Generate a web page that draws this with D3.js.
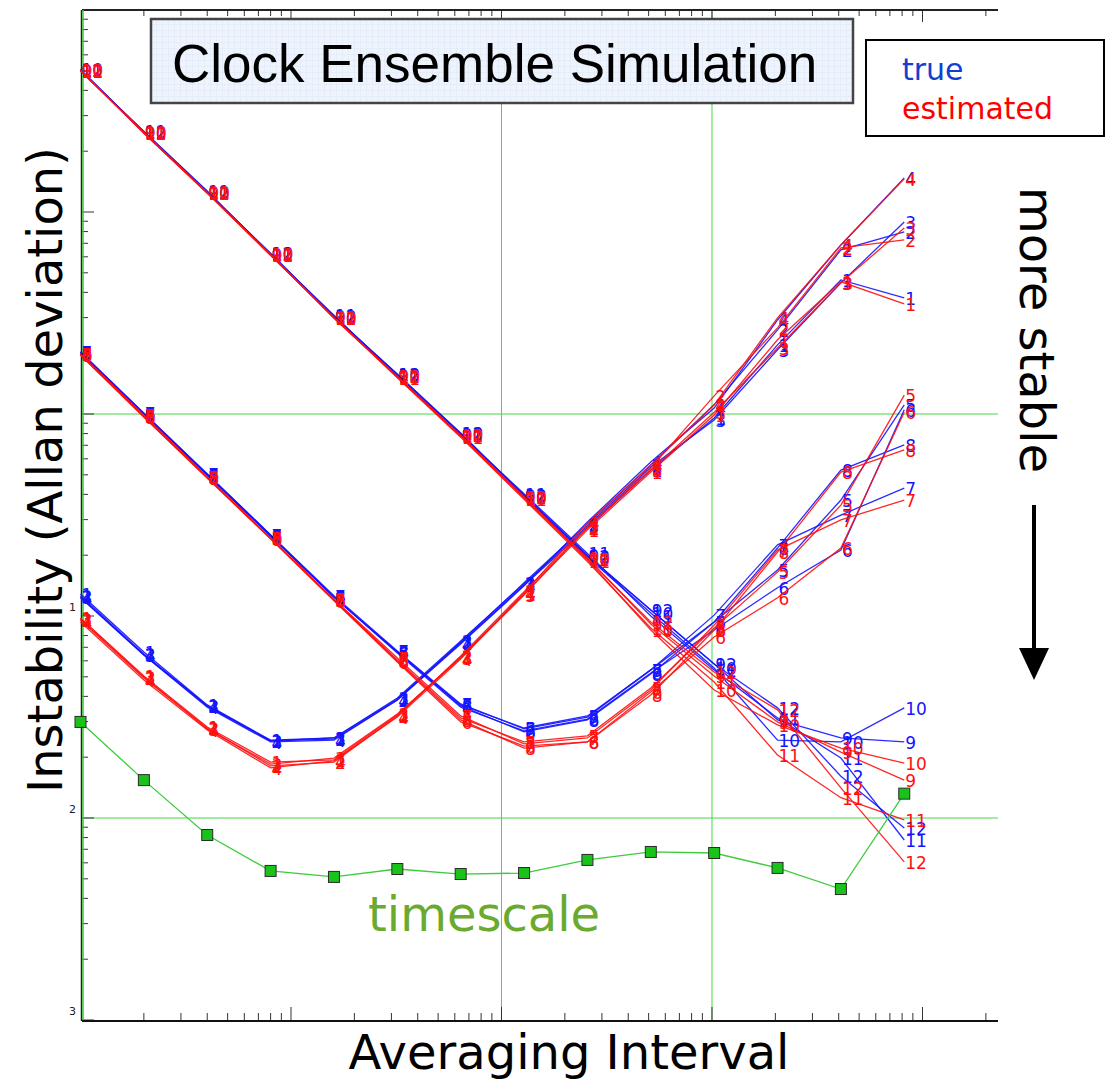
<!DOCTYPE html>
<html lang="en">
<head>
<meta charset="UTF-8">
<title>Clock Ensemble Simulation</title>
<script src="https://d3js.org/d3.v7.min.js"></script>
<style>
  body { margin: 0; background: #fff; }
  svg { display: block; }
  .lbl { font-family: "DejaVu Sans", Verdana, sans-serif; font-size: 17px; }
  .big { font-family: "DejaVu Sans", Verdana, sans-serif; font-size: 48px; }
</style>
</head>
<body>
<svg width="1106" height="1080"></svg>
<script>
// averaging intervals (tau0 = 1)
const tau = [1, 2, 4, 8, 16, 32, 64, 128, 256, 512, 1024, 2048, 4096, 8192];
const clockIds = [1, 2, 3, 4, 5, 6, 7, 8, 9, 10, 11, 12];

// Allan deviation, in units of 1e-12 (one row per clock)
const trueAdev = [
  [12.85, 6.64, 3.63, 2.43, 2.49, 3.88, 7.35, 14.2, 27.3, 52.8, 95.6, 220, 461, 376],
  [12.6, 6.49, 3.59, 2.41, 2.46, 3.84, 7.44, 14.6, 28.5, 55.9, 111, 261, 649, 797],
  [12.4, 6.41, 3.59, 2.41, 2.49, 3.93, 7.52, 14.4, 27.9, 54.7, 93.4, 208, 446, 893],
  [12.3, 6.41, 3.54, 2.38, 2.43, 3.84, 7.27, 14.1, 29.2, 57.9, 107, 292, 687, 1475],
  [203, 101, 50.5, 25.2, 12.4, 6.64, 3.63, 2.79, 3.20, 5.41, 9.34, 16.9, 37.5, 111],
  [200, 100, 49.9, 24.9, 12.4, 6.56, 3.54, 2.70, 3.09, 5.22, 8.53, 13.8, 21.2, 105],
  [203, 101, 50.5, 25.2, 12.6, 6.71, 3.67, 2.76, 3.16, 5.41, 10.1, 22.5, 31.6, 43.0],
  [200, 100, 49.9, 24.9, 12.4, 6.64, 3.59, 2.67, 3.06, 5.16, 9.34, 21.7, 52.8, 70.3],
  [5050, 2490, 1260, 620, 306, 156, 79.6, 39.7, 20.0, 10.7, 5.79, 3.06, 2.49, 2.38],
  [5080, 2470, 1250, 625, 303, 157, 80.5, 39.2, 19.6, 10.35, 5.53, 2.43, 2.38, 3.51],
  [5000, 2510, 1270, 615, 308, 154, 78.8, 40.3, 20.4, 10.0, 5.41, 3.13, 1.98, 0.778],
  [5060, 2480, 1255, 622, 304, 158, 80.0, 39.5, 19.8, 10.7, 5.79, 3.51, 1.61, 0.892]
];
const estAdev = [
  [9.78, 5.05, 2.82, 1.89, 1.94, 3.24, 6.27, 12.85, 26.7, 51.6, 98.9, 233, 451, 351],
  [9.56, 4.93, 2.79, 1.81, 1.89, 3.20, 6.34, 13.2, 27.3, 54.1, 123, 267, 664, 728],
  [9.66, 4.99, 2.76, 1.85, 1.98, 3.27, 6.20, 12.7, 27.6, 52.8, 102, 212, 446, 834],
  [9.34, 4.82, 2.73, 1.77, 1.92, 3.16, 6.13, 13.0, 28.9, 55.9, 111, 299, 687, 1458],
  [198, 97.8, 48.8, 24.3, 12.0, 6.06, 3.13, 2.38, 2.55, 4.40, 8.73, 16.5, 35.4, 124],
  [196, 96.7, 48.2, 24.1, 11.9, 5.92, 2.99, 2.27, 2.38, 4.21, 7.87, 12.3, 21.7, 102],
  [198, 98.9, 48.8, 24.3, 12.1, 6.20, 3.20, 2.33, 2.49, 4.30, 9.02, 21.2, 29.9, 37.5],
  [196, 96.7, 48.2, 24.1, 12.0, 5.99, 3.06, 2.22, 2.38, 4.06, 8.53, 20.7, 51.6, 66.4],
  [5020, 2470, 1245, 612, 300, 153, 78.0, 38.6, 19.4, 9.13, 5.05, 2.99, 2.12, 1.54],
  [5040, 2450, 1240, 618, 298, 152, 77.5, 38.2, 19.0, 8.53, 4.30, 2.89, 2.22, 1.87],
  [4980, 2480, 1250, 608, 302, 151, 76.8, 37.8, 18.6, 8.73, 4.71, 2.05, 1.26, 0.978],
  [5030, 2460, 1238, 615, 299, 154, 78.5, 38.9, 19.2, 9.34, 5.28, 3.43, 1.41, 0.606]
];
const timescaleAdev = [2.99, 1.54, 0.824, 0.547, 0.511, 0.559, 0.528, 0.534, 0.620, 0.679, 0.671, 0.566, 0.445, 1.32];

// axis decorations
const yLabelValues = [10, 1, 0.1];
const yLabelTexts = ["1", "2", "3"];
const xGridValues = [100, 1000];
const yGridValues = [100, 1];

const svg = d3.select("svg");
const plotL = 82, plotR = 998, plotT = 10, plotB = 1020;

const x = d3.scaleLog().domain([1, 22840]).range([80.5, 998]);
const y = d3.scaleLog().domain([0.1, 1e4]).range([1020, 10]);

svg.append("rect").attr("width", 1106).attr("height", 1080).attr("fill", "#fff");

// grid lines
svg.selectAll(".xgrid").data(xGridValues).enter().append("line")
   .attr("x1", d => x(d)).attr("x2", d => x(d))
   .attr("y1", plotT).attr("y2", plotB)
   .attr("stroke", "#44d844").attr("stroke-width", 1);
svg.selectAll(".ygrid").data(yGridValues).enter().append("line")
   .attr("x1", plotL).attr("x2", plotR)
   .attr("y1", d => y(d)).attr("y2", d => y(d))
   .attr("stroke", "#44d844").attr("stroke-width", 1);

// ticks
const isMajor = v => Math.abs(Math.log10(v) - Math.round(Math.log10(v))) < 1e-6;
const xt = x.ticks().filter(v => x(v) > plotL + 1 && x(v) < plotR - 2);
const yt = y.ticks().filter(v => y(v) >= plotT && y(v) <= plotB);

svg.selectAll(".xtb").data(xt).enter().append("line")
   .attr("x1", d => x(d)).attr("x2", d => x(d))
   .attr("y1", plotB).attr("y2", d => plotB - (isMajor(d) ? 13 : 7))
   .attr("stroke", "#333").attr("stroke-width", 1);
svg.selectAll(".xtt").data(xt).enter().append("line")
   .attr("x1", d => x(d)).attr("x2", d => x(d))
   .attr("y1", plotT).attr("y2", d => plotT + (isMajor(d) ? 12 : 6))
   .attr("stroke", "#333").attr("stroke-width", 1);
svg.selectAll(".ytl").data(yt).enter().append("line")
   .attr("x1", plotL).attr("x2", d => plotL + (isMajor(d) ? 12 : 6))
   .attr("y1", d => y(d)).attr("y2", d => y(d))
   .attr("stroke", "#333").attr("stroke-width", 1);

svg.selectAll(".ylab").data(yLabelValues).enter().append("text")
   .attr("x", 76).attr("y", d => y(d) - 5)
   .attr("text-anchor", "end")
   .attr("font-family", "DejaVu Sans, sans-serif").attr("font-size", 11)
   .attr("fill", "#222")
   .text((d, i) => yLabelTexts[i]);

// frame
svg.append("line").attr("x1", plotL).attr("x2", plotR).attr("y1", plotT).attr("y2", plotT)
   .attr("stroke", "#222").attr("stroke-width", 2);
svg.append("line").attr("x1", plotL).attr("x2", plotR).attr("y1", plotB + 1).attr("y2", plotB + 1)
   .attr("stroke", "#111").attr("stroke-width", 2);
svg.append("line").attr("x1", plotL - 0.5).attr("x2", plotL - 0.5).attr("y1", plotT).attr("y2", plotB + 1)
   .attr("stroke", "#222").attr("stroke-width", 1.5);
svg.append("line").attr("x1", plotL + 1).attr("x2", plotL + 1).attr("y1", plotT).attr("y2", plotB)
   .attr("stroke", "#33cc33").attr("stroke-width", 1.5);

// curves
const line = d3.line().x((d, i) => x(tau[i])).y(d => y(d));

function drawSet(rows, color, cls) {
  const g = svg.append("g").attr("class", cls);
  g.selectAll("path").data(rows).enter().append("path")
   .attr("d", line).attr("fill", "none")
   .attr("stroke", color).attr("stroke-width", 1.3).attr("opacity", 0.9);
  rows.forEach((row, ci) => {
    g.selectAll(".p" + ci).data(row).enter().append("text")
     .attr("class", "lbl")
     .attr("x", (d, i) => x(tau[i]) + 1)
     .attr("y", d => y(d))
     .attr("dy", "0.4em")
     .attr("fill", color)
     .text(clockIds[ci]);
  });
}
drawSet(trueAdev, "#1414ff", "true");
drawSet(estAdev, "#ff1010", "est");

// timescale
svg.append("path").datum(timescaleAdev)
   .attr("d", line).attr("fill", "none")
   .attr("stroke", "#3ccc3c").attr("stroke-width", 1.3);
svg.selectAll(".ts").data(timescaleAdev).enter().append("rect")
   .attr("x", (d, i) => x(tau[i]) - 5.5).attr("y", d => y(d) - 5.5)
   .attr("width", 11).attr("height", 11)
   .attr("fill", "#19c319").attr("stroke", "#2a2a2a").attr("stroke-width", 1);

svg.append("text").attr("class", "big")
   .attr("x", 368).attr("y", 931).attr("font-size", 47)
   .attr("fill", "#6aaa2e").text("timescale");

// title box
const defs = svg.append("defs");
const pat = defs.append("pattern").attr("id", "gridpat")
   .attr("width", 6).attr("height", 6).attr("patternUnits", "userSpaceOnUse");
pat.append("rect").attr("width", 6).attr("height", 6).attr("fill", "#eef3fc");
pat.append("path").attr("d", "M6 0 L0 0 0 6").attr("fill", "none")
   .attr("stroke", "#dde7f7").attr("stroke-width", 1);

svg.append("rect").attr("x", 151).attr("y", 19).attr("width", 702).attr("height", 84)
   .attr("fill", "url(#gridpat)").attr("stroke", "#444").attr("stroke-width", 2.5);
svg.append("text").attr("x", 172).attr("y", 82)
   .attr("font-family", "Liberation Sans, Arial, sans-serif").attr("font-size", 53)
   .attr("fill", "#000").text("Clock Ensemble Simulation");

// legend
svg.append("rect").attr("x", 866).attr("y", 40).attr("width", 238).attr("height", 96)
   .attr("fill", "#fff").attr("stroke", "#000").attr("stroke-width", 2);
svg.append("text").attr("x", 902).attr("y", 80)
   .attr("font-family", "DejaVu Sans, Verdana, sans-serif").attr("font-size", 30)
   .attr("fill", "#1040d0").text("true");
svg.append("text").attr("x", 902).attr("y", 119)
   .attr("font-family", "DejaVu Sans, Verdana, sans-serif").attr("font-size", 30)
   .attr("fill", "#ff0000").text("estimated");

// axis titles
svg.append("text").attr("class", "big")
   .attr("transform", "translate(62,470) rotate(-90)")
   .attr("text-anchor", "middle").text("Instability (Allan deviation)");
svg.append("text").attr("class", "big")
   .attr("x", 569).attr("y", 1069).attr("text-anchor", "middle")
   .text("Averaging Interval");

// "more stable" annotation with arrow
svg.append("text").attr("class", "big")
   .attr("transform", "translate(1020,330) rotate(90)")
   .attr("text-anchor", "middle").attr("font-size", 47).text("more stable");
svg.append("line").attr("x1", 1034).attr("x2", 1034).attr("y1", 505).attr("y2", 652)
   .attr("stroke", "#000").attr("stroke-width", 4);
svg.append("path").attr("d", "M1019,648 L1049,648 L1034,680 Z").attr("fill", "#000");
</script>
</body>
</html>
